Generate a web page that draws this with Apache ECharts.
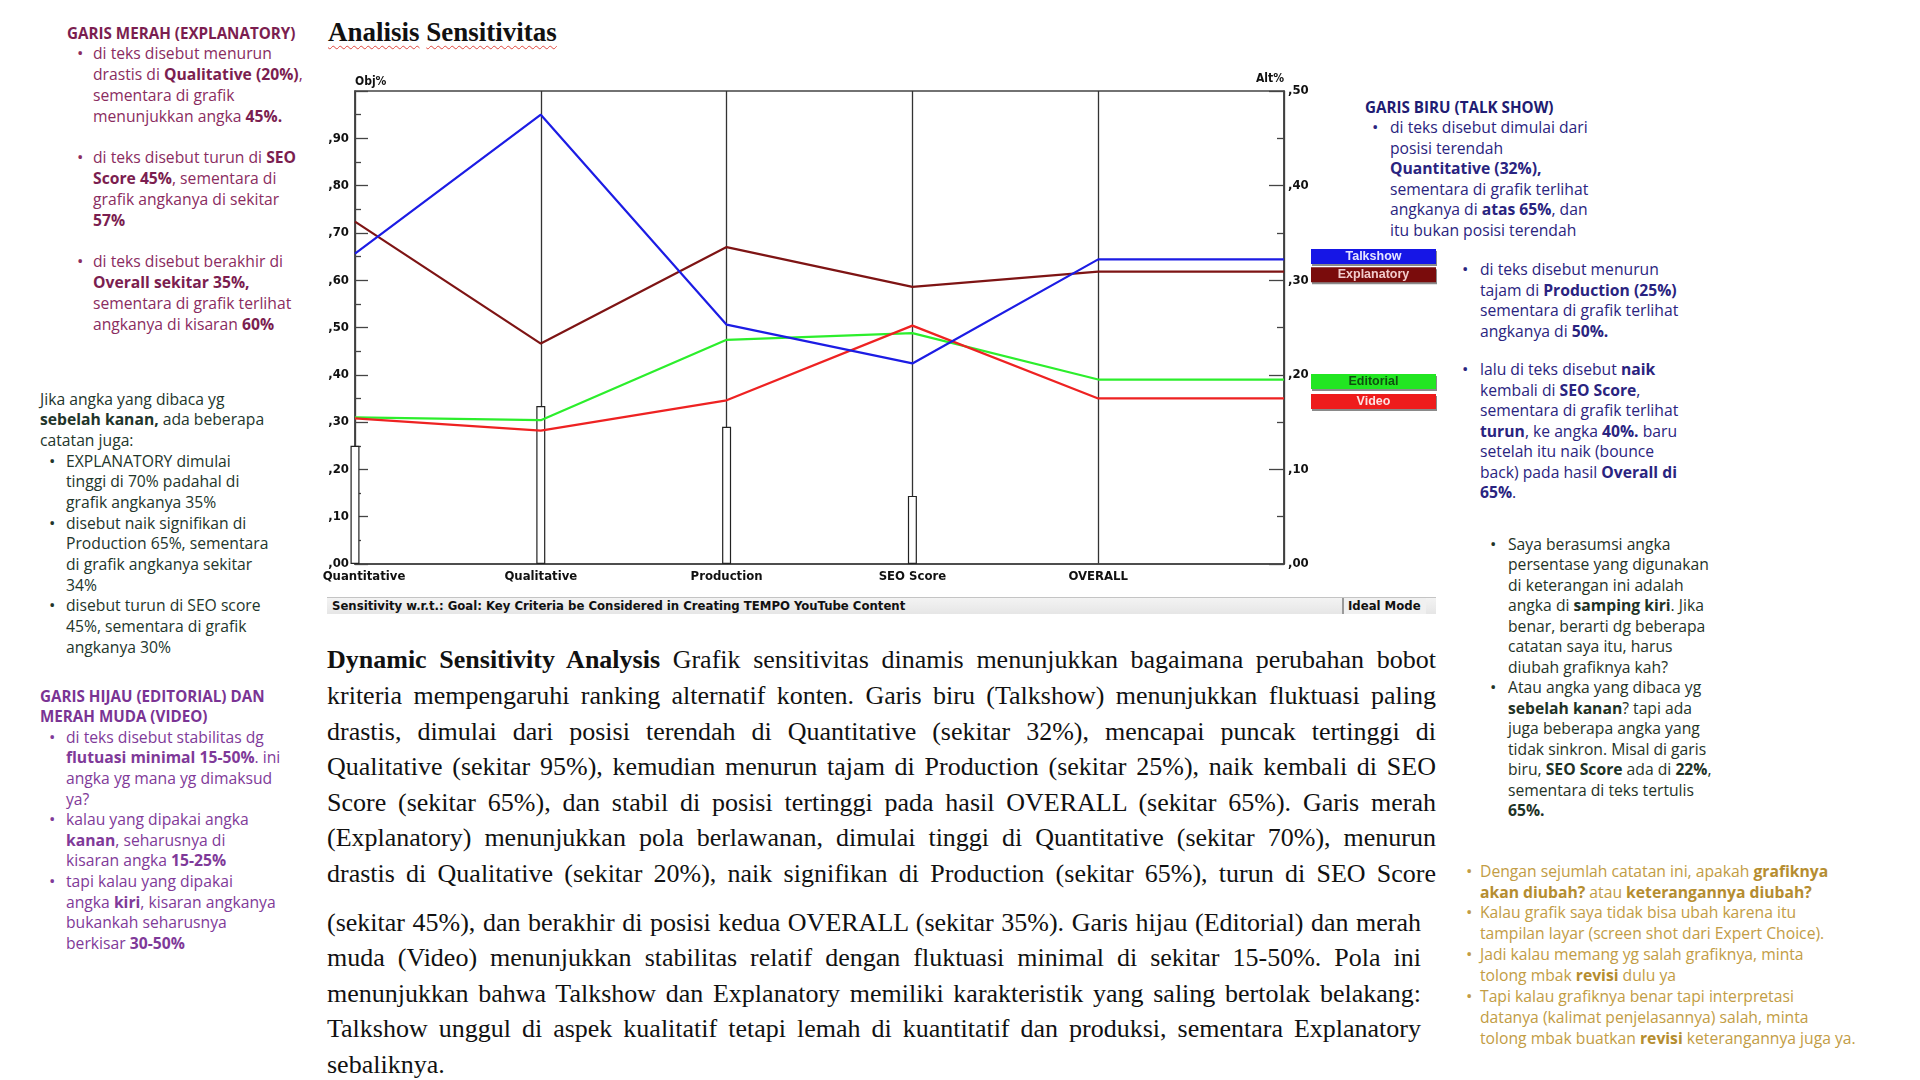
<!DOCTYPE html>
<html>
<head>
<meta charset="utf-8">
<script src="https://cdn.jsdelivr.net/npm/echarts@6/dist/echarts.min.js"></script>
<style>
  html, body { margin:0; padding:0; background:#fff; }
  body { width:1920px; height:1080px; position:relative; overflow:hidden; }
  .blk { position:absolute; font-family:'Open Sans','Noto Sans',sans-serif; font-size:15.7px; white-space:nowrap; }
  .blk b { font-weight:700; }
  .blk .h { font-size:15.2px; }
  .li { position:relative; }
  .li::before { content:'\2022'; position:absolute; left:var(--bl,-16px); top:0; font-size:17px; }
  #title { position:absolute; left:328px; top:16px; line-height:32px; font-family:'Liberation Serif','Times New Roman',serif; font-weight:700; font-size:27px; color:#111; }
  #title span { text-decoration: underline wavy #e0463c; text-decoration-thickness:1px; text-underline-offset:4px; }
  #chart { position:absolute; left:300px; top:60px; width:1200px; height:560px; }
  #status { position:absolute; left:327px; top:597px; width:1109px; height:16px; background:linear-gradient(#f3f3f3,#e6e6e6); border-top:1px solid #c4c4c4; font-family:'Liberation Sans Narrow','DejaVu Sans Condensed',sans-serif; font-weight:700; font-size:13px; line-height:16px; color:#111; }
  #status .t { position:absolute; left:5px; top:0; }
  #status .m { position:absolute; left:1015px; top:0; width:78px; height:16px; border-left:2px solid #9a9a9a; padding-left:4px; background:#f0f0f0; }
  .para { position:absolute; font-family:'Liberation Serif','Times New Roman',serif; font-size:26px; line-height:35.6px; color:#111; }
  .para div { text-align:justify; text-align-last:justify; white-space:nowrap; }
  .para div.last { text-align-last:left; }
</style>
</head>
<body>

<div id="title"><span>Analisis</span> <span>Sensitivitas</span></div>

<!-- LEFT BLOCK 1 -->
<div class="blk" style="left:93px; top:22.6px; line-height:20.8px; color:#8a2c5f; --bl:-16px;">
  <div class="h" style="margin-left:-26px; font-weight:700; color:#7b1e50;">GARIS MERAH (EXPLANATORY)</div>
  <div class="li">di teks disebut menurun<br>drastis di <b style="color:#7b1e50">Qualitative (20%)</b>,<br>sementara di grafik<br>menunjukkan angka <b style="color:#7b1e50">45%.</b></div>
  <div class="li" style="margin-top:20.8px;">di teks disebut turun di <b style="color:#7b1e50">SEO</b><br><b style="color:#7b1e50">Score 45%</b>, sementara di<br>grafik angkanya di sekitar<br><b style="color:#7b1e50">57%</b></div>
  <div class="li" style="margin-top:20.8px;">di teks disebut berakhir di<br><b style="color:#7b1e50">Overall sekitar 35%,</b><br>sementara di grafik terlihat<br>angkanya di kisaran <b style="color:#7b1e50">60%</b></div>
</div>

<!-- LEFT BLOCK 2 -->
<div class="blk" style="left:66px; top:388.7px; line-height:20.65px; color:#22352b; --bl:-17px;">
  <div style="margin-left:-26px;">Jika angka yang dibaca yg<br><b>sebelah kanan,</b> ada beberapa<br>catatan juga:</div>
  <div class="li">EXPLANATORY dimulai<br>tinggi di 70% padahal di<br>grafik angkanya 35%</div>
  <div class="li">disebut naik signifikan di<br>Production 65%, sementara<br>di grafik angkanya sekitar<br>34%</div>
  <div class="li">disebut turun di SEO score<br>45%, sementara di grafik<br>angkanya 30%</div>
</div>

<!-- LEFT BLOCK 3 -->
<div class="blk" style="left:66px; top:685.7px; line-height:20.6px; color:#7f3a99; --bl:-17px;">
  <div class="h" style="margin-left:-26px; font-weight:700; color:#7a3494;">GARIS HIJAU (EDITORIAL) DAN<br>MERAH MUDA (VIDEO)</div>
  <div class="li">di teks disebut stabilitas dg<br><b>flutuasi minimal 15-50%</b>. ini<br>angka yg mana yg dimaksud<br>ya?</div>
  <div class="li">kalau yang dipakai angka<br><b>kanan</b>, seharusnya di<br>kisaran angka <b>15-25%</b></div>
  <div class="li">tapi kalau yang dipakai<br>angka <b>kiri</b>, kisaran angkanya<br>bukankah seharusnya<br>berkisar <b>30-50%</b></div>
</div>

<!-- RIGHT BLOCK 1 -->
<div class="blk" style="left:1390px; top:96.8px; line-height:20.5px; color:#2a2480; --bl:-18px;">
  <div class="h" style="margin-left:-25px; font-weight:700; color:#211c72;">GARIS BIRU (TALK SHOW)</div>
  <div class="li">di teks disebut dimulai dari<br>posisi terendah<br><b>Quantitative (32%),</b><br>sementara di grafik terlihat<br>angkanya di <b>atas 65%</b>, dan<br>itu bukan posisi terendah</div>
  <div class="li" style="margin-left:90px; margin-top:19px;">di teks disebut menurun<br>tajam di <b>Production (25%)</b><br>sementara di grafik terlihat<br>angkanya di <b>50%.</b></div>
  <div class="li" style="margin-left:90px; margin-top:18px;">lalu di teks disebut <b>naik</b><br>kembali di <b>SEO Score</b>,<br>sementara di grafik terlihat<br><b>turun</b>, ke angka <b>40%.</b> baru<br>setelah itu naik (bounce<br>back) pada hasil <b>Overall di</b><br><b>65%</b>.</div>
</div>

<!-- RIGHT BLOCK 2 -->
<div class="blk" style="left:1508px; top:533.7px; line-height:20.5px; color:#1f3327; --bl:-18px;">
  <div class="li">Saya berasumsi angka<br>persentase yang digunakan<br>di keterangan ini adalah<br>angka di <b>samping kiri</b>. Jika<br>benar, berarti dg beberapa<br>catatan saya itu, harus<br>diubah grafiknya kah?</div>
  <div class="li">Atau angka yang dibaca yg<br><b>sebelah kanan</b>? tapi ada<br>juga beberapa angka yang<br>tidak sinkron. Misal di garis<br>biru, <b>SEO Score</b> ada di <b>22%</b>,<br>sementara di teks tertulis<br><b>65%.</b></div>
</div>

<!-- RIGHT BLOCK 3 -->
<div class="blk" style="left:1480px; top:860.6px; line-height:20.9px; color:#c29c44; --bl:-14px;">
  <div class="li">Dengan sejumlah catatan ini, apakah <b style="color:#b58d30">grafiknya</b><br><b style="color:#b58d30">akan diubah?</b> atau <b style="color:#b58d30">keterangannya diubah?</b></div>
  <div class="li">Kalau grafik saya tidak bisa ubah karena itu<br>tampilan layar (screen shot dari Expert Choice).</div>
  <div class="li">Jadi kalau memang yg salah grafiknya, minta<br>tolong mbak <b style="color:#b58d30">revisi</b> dulu ya</div>
  <div class="li">Tapi kalau grafiknya benar tapi interpretasi<br>datanya (kalimat penjelasannya) salah, minta<br>tolong mbak buatkan <b style="color:#b58d30">revisi</b> keterangannya juga ya.</div>
</div>

<div id="chart"></div>

<div id="status"><span class="t">Sensitivity w.r.t.: Goal: Key Criteria be Considered in Creating TEMPO YouTube Content</span><span class="m">Ideal Mode</span></div>

<div class="para" style="left:327px; top:642.4px; width:1109px;">
  <div><b>Dynamic Sensitivity Analysis</b> Grafik sensitivitas dinamis menunjukkan bagaimana perubahan bobot</div>
  <div>kriteria mempengaruhi ranking alternatif konten. Garis biru (Talkshow) menunjukkan fluktuasi paling</div>
  <div>drastis, dimulai dari posisi terendah di Quantitative (sekitar 32%), mencapai puncak tertinggi di</div>
  <div>Qualitative (sekitar 95%), kemudian menurun tajam di Production (sekitar 25%), naik kembali di SEO</div>
  <div>Score (sekitar 65%), dan stabil di posisi tertinggi pada hasil OVERALL (sekitar 65%). Garis merah</div>
  <div>(Explanatory) menunjukkan pola berlawanan, dimulai tinggi di Quantitative (sekitar 70%), menurun</div>
  <div>drastis di Qualitative (sekitar 20%), naik signifikan di Production (sekitar 65%), turun di SEO Score</div>
</div>
<div class="para" style="left:327px; top:904.6px; width:1094px;">
  <div>(sekitar 45%), dan berakhir di posisi kedua OVERALL (sekitar 35%). Garis hijau (Editorial) dan merah</div>
  <div>muda (Video) menunjukkan stabilitas relatif dengan fluktuasi minimal di sekitar 15-50%. Pola ini</div>
  <div>menunjukkan bahwa Talkshow dan Explanatory memiliki karakteristik yang saling bertolak belakang:</div>
  <div>Talkshow unggul di aspek kualitatif tetapi lemah di kuantitatif dan produksi, sementara Explanatory</div>
  <div class="last">sebaliknya.</div>
</div>

<script>
// ---------------- DATA ----------------
const categories = ['Quantitative', 'Qualitative', 'Production', 'SEO Score', 'OVERALL'];
// criteria weights (bars, left axis Obj%)
const criteriaWeight = [0.250, 0.334, 0.290, 0.144];
// alternative priorities (lines, right axis Alt%)
const talkshow    = [0.328, 0.475, 0.253, 0.212, 0.322];
const explanatory = [0.362, 0.233, 0.335, 0.293, 0.309];
const editorial   = [0.155, 0.152, 0.237, 0.244, 0.195];
const video       = [0.154, 0.141, 0.173, 0.252, 0.175];
// tick labels
const objTickLabels = [',00', ',10', ',20', ',30', ',40', ',50', ',60', ',70', ',80', ',90', ''];
const altTickLabels = [',00', ',10', ',20', ',30', ',40', ',50'];

// ---------------- CHART ----------------
const narrow = "'Liberation Sans Narrow','DejaVu Sans Condensed',sans-serif";
const axisCol = '#444';
const chart = echarts.init(document.getElementById('chart'));

// OVERALL value is held flat out to the right edge of the plot
const xCats = categories.concat(['']);
const extend = arr => arr.concat([arr[arr.length - 1]]);

function lineSeries(name, data, color, boxBg, boxText, off) {
  return {
    name: name, type: 'line', yAxisIndex: 1, data: extend(data),
    symbol: 'none', silent: true,
    lineStyle: { color: color, width: 2.2 },
    itemStyle: { color: color },
    endLabel: {
      show: true, distance: 27, offset: off,
      formatter: '{b|' + name + '}',
      rich: {
        b: {
          width: 125, height: 15, lineHeight: 15, align: 'center',
          backgroundColor: boxBg, color: boxText,
          fontFamily: "'Liberation Sans',Arial,sans-serif", fontWeight: 'bold', fontSize: 12.5,
          shadowColor: '#8a8a8a', shadowOffsetX: 1, shadowOffsetY: 2, shadowBlur: 0
        }
      }
    }
  };
}

chart.setOption({
  animation: false,
  grid: { left: 55, top: 31, width: 929, height: 473, show: true, borderColor: axisCol, borderWidth: 1.5, backgroundColor: 'transparent' },
  xAxis: {
    type: 'category', data: xCats, boundaryGap: false,
    axisLine: { show: true, lineStyle: { color: axisCol, width: 1.5 } },
    axisTick: { show: false },
    splitLine: { show: true, interval: 0, lineStyle: { color: '#333', width: 1.3 } },
    axisLabel: {
      interval: 0, margin: 6, color: '#111', fontFamily: narrow, fontWeight: 'bold', fontSize: 13,
      formatter: (v, i) => i === 0 ? '{q|' + v + '}' : v,
      rich: { q: { padding: [0, 0, 0, 18], fontFamily: narrow, fontWeight: 'bold', fontSize: 13, color: '#111' } }
    }
  },
  yAxis: [
    {
      type: 'value', min: 0, max: 1, interval: 0.1, position: 'left',
      name: 'Obj%', nameLocation: 'end', nameGap: 3,
      nameTextStyle: { align: 'left', color: '#111', fontFamily: narrow, fontWeight: 'bold', fontSize: 12 },
      axisLine: { show: true, lineStyle: { color: axisCol, width: 1.5 } },
      axisTick: { show: true, inside: true, length: 13, lineStyle: { color: axisCol, width: 1.3 } },
      minorTick: { show: true, splitNumber: 2, length: 6, lineStyle: { color: axisCol, width: 1.3 } },
      splitLine: { show: false },
      axisLabel: { margin: 6, color: '#111', fontFamily: narrow, fontWeight: 'bold', fontSize: 13,
        formatter: (v, i) => objTickLabels[i] }
    },
    {
      type: 'value', min: 0, max: 0.5, interval: 0.1, position: 'right',
      name: 'Alt%', nameLocation: 'end', nameGap: 3,
      nameTextStyle: { align: 'right', color: '#111', fontFamily: narrow, fontWeight: 'bold', fontSize: 12 },
      axisLine: { show: true, lineStyle: { color: axisCol, width: 1.5 } },
      axisTick: { show: true, inside: true, length: 15, lineStyle: { color: axisCol, width: 1.3 } },
      minorTick: { show: true, splitNumber: 2, length: 7, lineStyle: { color: axisCol, width: 1.3 } },
      splitLine: { show: false },
      axisLabel: { margin: 4, color: '#111', fontFamily: narrow, fontWeight: 'bold', fontSize: 13,
        formatter: (v, i) => altTickLabels[i] }
    }
  ],
  series: [
    {
      name: 'Obj%', type: 'bar', yAxisIndex: 0, data: criteriaWeight, barWidth: 9, clip: false, silent: true,
      itemStyle: { color: '#ffffff', borderColor: '#222', borderWidth: 1.2 }, z: 1
    },
    lineSeries('Editorial', editorial, '#2cee2c', '#22e622', '#0f4f0f', [0, 2]),
    lineSeries('Video', video, '#ee2222', '#ee1c1c', '#fde2e2', [0, 3]),
    lineSeries('Explanatory', explanatory, '#7e1414', '#7a0c0c', '#f2cccc', [0, 3]),
    lineSeries('Talkshow', talkshow, '#1c1ce4', '#1616e6', '#e6e6ff', [0, -3])
  ]
});
</script>
</body>
</html>
